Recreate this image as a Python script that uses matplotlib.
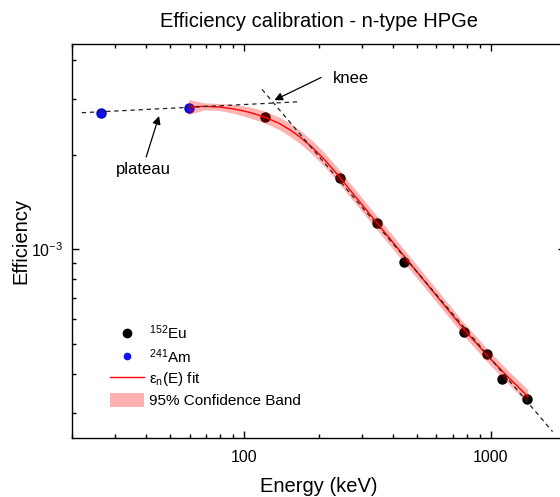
import matplotlib
matplotlib.use("Agg")
import matplotlib.pyplot as plt
import matplotlib.ticker as ticker
from matplotlib.lines import Line2D
from matplotlib.patches import Patch
import numpy as np

plt.rcParams['font.family'] = ['Liberation Sans', 'DejaVu Sans']
plt.rcParams['mathtext.fontset'] = 'custom'
plt.rcParams['mathtext.rm'] = 'Liberation Sans'
plt.rcParams['mathtext.it'] = 'Liberation Sans:italic'
plt.rcParams['mathtext.default'] = 'regular'

# measured points (keV, efficiency)
eu_E = [121.8, 244.7, 344.3, 444.0, 778.9, 964.1, 1112.1, 1408.0]
eu_eff = [2.63e-3, 1.68e-3, 1.207e-3, 9.11e-4, 5.46e-4, 4.63e-4, 3.86e-4, 3.32e-4]
am_E = [26.3, 59.5]
am_eff = [2.72e-3, 2.82e-3]

# fit curve, band as +/- percent
fit_E = [59.5, 68.8, 79.1, 91.1, 104.8, 121.7, 138.8, 152.4, 167.3, 189.0,
         211.4, 236.6, 245.5, 344.0, 447.2, 592.1, 784.0, 990.6, 1194.6, 1414.0]
fit_eff = [2.835e-3, 2.849e-3, 2.835e-3, 2.794e-3, 2.727e-3, 2.629e-3, 2.512e-3,
           2.404e-3, 2.283e-3, 2.105e-3, 1.928e-3, 1.742e-3, 1.680e-3, 1.216e-3,
           9.45e-4, 7.22e-4, 5.51e-4, 4.49e-4, 3.86e-4, 3.39e-4]
band_pct = [5.6, 2.6, 2.6, 3.3, 4.1, 4.5, 4.7, 4.9, 5.0, 5.2,
            5.2, 5.2, 5.2, 5.2, 4.9, 4.9, 4.9, 4.9, 4.9, 5.2]

# guide lines
plateau_E = [21.9, 167.3]
plateau_eff = [2.718e-3, 2.946e-3]
slope_E = [118.0, 1781.0]
slope_eff = [3.226e-3, 2.62e-4]

# annotations: text position, arrow tail, arrow tip
knee_text = (271.5, 3.37e-3)
knee_tail = (205.0, 3.52e-3)
knee_tip = (132.4, 2.98e-3)
plateau_text = (39.0, 1.737e-3)
plateau_tail = (40.0, 1.966e-3)
plateau_tip = (45.1, 2.653e-3)

fit_eff_a = np.array(fit_eff)
band_r = np.array(band_pct) / 100.0
band_lo = fit_eff_a / (1 + band_r)
band_hi = fit_eff_a * (1 + band_r)

fig = plt.figure(figsize=(5.6, 4.97), dpi=100)
ax = fig.add_axes([72/560, 59/497, 493/560, 394/497])
ax.set_xscale('log')
ax.set_yscale('log')

ax.plot(eu_E, eu_eff, 'o', color='black', ms=6.5, zorder=2)
ax.plot(am_E, am_eff, 'o', color='#1010ff', mec='#0000c0', ms=6.5, zorder=2)
ax.fill_between(fit_E, band_lo, band_hi, color='red', alpha=0.3, lw=0, zorder=3)
ax.plot(fit_E, fit_eff, color='#ff0000', lw=1.0, zorder=4)

ax.plot(plateau_E, plateau_eff, color='#222222', lw=0.9, ls=(0, (3.5, 3)), zorder=5)
ax.plot(slope_E, slope_eff, color='#222222', lw=0.9, ls=(0, (3.5, 3)), zorder=5)

arrow = dict(arrowstyle='-|>', color='black', lw=0.9, mutation_scale=12, shrinkA=0, shrinkB=0)
ax.annotate('', xy=knee_tip, xytext=knee_tail, arrowprops=arrow)
ax.annotate('', xy=plateau_tip, xytext=plateau_tail, arrowprops=arrow)
ax.text(*knee_text, 'knee', fontsize=12, ha='center', va='baseline')
ax.text(*plateau_text, 'plateau', fontsize=12, ha='center', va='baseline')

ax.set_xlim(20, 2000)
ax.set_ylim(2.5e-4, 4.5e-3)
ax.xaxis.set_major_formatter(ticker.FuncFormatter(lambda v, p: f"{v:g}"))
ax.xaxis.set_minor_formatter(ticker.NullFormatter())
ax.yaxis.set_major_locator(ticker.LogLocator(base=10))
ax.yaxis.set_minor_formatter(ticker.NullFormatter())

ax.tick_params(which='both', direction='in', top=True, right=True, labelsize=11.5)
ax.tick_params(which='major', length=5, width=1)
ax.tick_params(axis='x', which='major', pad=9)
ax.tick_params(axis='y', which='major', pad=6)
ax.tick_params(which='minor', length=3, width=1)
for s in ax.spines.values():
    s.set_linewidth(1)

ax.set_title('Efficiency calibration - n-type HPGe', fontsize=14.5, pad=12)
ax.set_xlabel('Energy (keV)', fontsize=14.5, labelpad=8)
ax.set_ylabel('Efficiency', fontsize=14.5, labelpad=1)

handles = [
    Line2D([], [], ls='none', marker='o', color='black', ms=6),
    Line2D([], [], ls='none', marker='o', color='#1010ff', ms=4.5),
    Line2D([], [], color='#ff0000', lw=1.0),
    Patch(facecolor='red', alpha=0.3, lw=0),
]
labels = ['$^{152}$Eu', '$^{241}$Am', 'ε$_{n}$(E) fit', '95% Confidence Band']
ax.legend(handles, labels, loc='upper left', bbox_to_anchor=(0.077, 0.29),
          frameon=False, fontsize=11, handlelength=2.25, handleheight=1.1,
          handletextpad=0.3, labelspacing=0.3, borderpad=0, borderaxespad=0)

fig.savefig('out.png', dpi=100)
